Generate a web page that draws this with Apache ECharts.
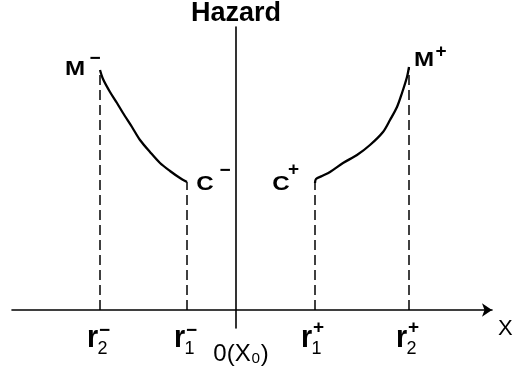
<!DOCTYPE html>
<html>
<head>
<meta charset="utf-8">
<script src="https://cdn.jsdelivr.net/npm/echarts@6/dist/echarts.min.js"></script>
<style>
  html, body { margin: 0; padding: 0; background: #fff; }
  #chart { width: 520px; height: 370px; }
</style>
</head>
<body>
<div id="chart"></div>
<script>
// Hazard on each side of the origin x0: falls from M- to C-, rises from C+ to M+
const leftX  = [-136, -133, -126, -119, -113, -104, -96, -86, -76, -66, -56, -49];
const leftY  = [240, 231, 218, 207, 197, 183, 170, 158, 147, 139, 132, 128];
const rightX = [79, 80, 86, 94, 107, 121, 134, 147, 154, 161, 166, 171, 173];
const rightY = [127, 131, 134, 138, 147, 155, 165, 178, 190, 203, 217, 233, 243];

// Radii marked on the X axis
const rTicks = [-136, -49, 78, 173];
const rSub   = ['2', '1', '1', '2'];
const rSign  = ['\u2212', '\u2212', '+', '+'];
const originLabel = '0(X\u2080)';

// Curve end points
const pointNames = ['M', 'C', 'C', 'M'];
const pointSigns = ['\u2212', '\u2212', '+', '+'];

const FONT = 'Liberation Sans';
const INK = '#000';

const endPoints = [
  [leftX[0], leftY[0]],
  [leftX[leftX.length - 1], leftY[leftY.length - 1]],
  [rightX[0], rightY[0]],
  [rightX[rightX.length - 1], rightY[rightY.length - 1]]
];

// pixel offsets of letter and sign centres from each end point
const pointLabelLayout = [
  { main: [-25, -1],  sign: [-5, -11] },
  { main: [18, 2.5],  sign: [38, -11] },
  { main: [-34, 1.5], sign: [-21.5, -13] },
  { main: [15, -6.5], sign: [32, -15] }
];

function txt(x, y, text, size, weight, sx) {
  return {
    type: 'text', x: x, y: y,
    scaleX: sx || 1,
    style: {
      text: text, fill: INK,
      fontFamily: FONT, fontSize: size, fontWeight: weight || 'normal',
      align: 'center', verticalAlign: 'middle'
    }
  };
}

const curveStyle = { color: INK, width: 2.3 };

const guideSeries = endPoints.map(p => ({
  type: 'line',
  data: [[p[0], 0], [p[0], p[1]]],
  symbol: 'none',
  silent: true,
  lineStyle: { color: INK, width: 1.5, type: [10, 5] }
}));

const chart = echarts.init(document.getElementById('chart'));
chart.setOption({
  animation: false,
  backgroundColor: '#fff',
  grid: { left: 12, right: 28, top: 27, bottom: 42, containLabel: false },
  xAxis: {
    type: 'value',
    min: -224,
    max: 256,
    name: 'X',
    nameLocation: 'end',
    nameGap: 6,
    nameTextStyle: { color: INK, fontFamily: FONT, fontSize: 22, verticalAlign: 'top', padding: [8, 0, 0, 0] },
    axisLine: {
      onZero: true,
      symbol: ['none', 'arrow'],
      symbolSize: [10, 10],
      lineStyle: { color: INK, width: 1.6 }
    },
    axisTick: { show: false },
    axisLabel: { show: false },
    splitLine: { show: false }
  },
  yAxis: {
    type: 'value',
    min: -18,
    max: 283,
    name: 'Hazard',
    nameLocation: 'end',
    nameGap: 0,
    nameTextStyle: { color: INK, fontFamily: FONT, fontSize: 27, fontWeight: 'bold' },
    axisLine: { onZero: true, lineStyle: { color: INK, width: 1.6 } },
    axisTick: { show: false },
    axisLabel: { show: false },
    splitLine: { show: false }
  },
  series: [
    {
      type: 'line',
      data: leftX.map((x, i) => [x, leftY[i]]),
      smooth: 0.3,
      symbol: 'none',
      silent: true,
      lineStyle: curveStyle
    },
    {
      type: 'line',
      data: rightX.map((x, i) => [x, rightY[i]]),
      smooth: 0.3,
      symbol: 'none',
      silent: true,
      lineStyle: curveStyle
    },
    ...guideSeries,
    {
      // r labels under the X axis
      type: 'custom',
      clip: false,
      silent: true,
      data: rTicks.map(x => [x, 0]),
      renderItem(params, api) {
        const i = params.dataIndex;
        const p = api.coord([api.value(0), 0]);
        const minus = rSign[i] === '\u2212';
        return {
          type: 'group',
          x: p[0],
          y: p[1],
          children: [
            txt(-7.5, 28, 'r', 32, 'bold', 0.9),
            txt(2.5, 39.5, rSub[i], 18),
            txt(4.5, minus ? 21 : 18, rSign[i], 19, 'bold')
          ]
        };
      }
    },
    {
      // origin label
      type: 'custom',
      clip: false,
      silent: true,
      data: [[0, 0]],
      renderItem(params, api) {
        const p = api.coord([api.value(0), api.value(1)]);
        return txt(p[0] + 5, p[1] + 44, originLabel, 24);
      }
    },
    {
      // M and C end point labels
      type: 'custom',
      clip: false,
      silent: true,
      data: endPoints,
      renderItem(params, api) {
        const i = params.dataIndex;
        const p = api.coord([api.value(0), api.value(1)]);
        const lay = pointLabelLayout[i];
        return {
          type: 'group',
          x: p[0],
          y: p[1],
          children: [
            txt(lay.main[0], lay.main[1], pointNames[i], 21, 'bold', 1.15),
            txt(lay.sign[0], lay.sign[1], pointSigns[i], 19, 'bold')
          ]
        };
      }
    }
  ]
});
</script>
</body>
</html>
